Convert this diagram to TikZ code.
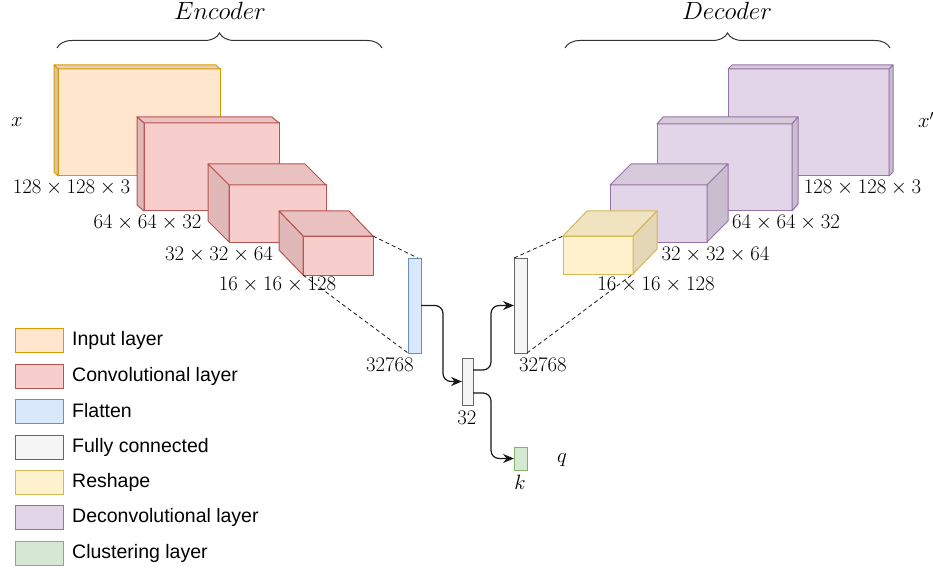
\documentclass[tikz,border=0pt]{standalone}
\usepackage[no-math]{fontspec}
\newfontfamily\legendfont{Liberation Sans}
\usetikzlibrary{calc,arrows.meta,decorations.pathreplacing}
\definecolor{inpfront}{HTML}{FFE6CC}\definecolor{inptop}{HTML}{E8D0B8}\definecolor{inpside}{HTML}{DCC4AB}\definecolor{inpline}{HTML}{D79B00}
\definecolor{convfront}{HTML}{F8CECC}\definecolor{convtop}{HTML}{E9C1C0}\definecolor{convside}{HTML}{DFB8B7}\definecolor{convline}{HTML}{B85450}
\definecolor{decfront}{HTML}{E1D5E7}\definecolor{dectop}{HTML}{D6CADB}\definecolor{decside}{HTML}{C9BDCF}\definecolor{decline}{HTML}{9673A6}
\definecolor{resfront}{HTML}{FFF2CC}\definecolor{restop}{HTML}{F0E3BF}\definecolor{resside}{HTML}{E3D7B5}\definecolor{resline}{HTML}{D6B656}
\definecolor{flfront}{HTML}{DAE8FC}\definecolor{flline}{HTML}{6C8EBF}
\definecolor{fcfront}{HTML}{F5F5F5}\definecolor{fcline}{HTML}{666666}
\definecolor{clfront}{HTML}{D5E8D4}\definecolor{clline}{HTML}{82B366}
\newcommand{\lcube}[8]{%
  \node[box, draw=#8line, fill=#8front, minimum width=#4pt, minimum height=#5pt] (#1) at (#2,#3) {};
  \filldraw[face, draw=#8line, fill=#8top] (#1.north west) -- (#1.north east) -- ++(-#6,-#7) -- ($(#1.north west)+(-#6,-#7)$) -- cycle;
  \filldraw[face, draw=#8line, fill=#8side] (#1.north west) -- (#1.south west) -- ++(-#6,-#7) -- ($(#1.north west)+(-#6,-#7)$) -- cycle;
}
\newcommand{\rcube}[8]{%
  \node[box, draw=#8line, fill=#8front, minimum width=#4pt, minimum height=#5pt] (#1) at (#2,#3) {};
  \filldraw[face, draw=#8line, fill=#8top] (#1.north west) -- (#1.north east) -- ++(#6,-#7) -- ($(#1.north west)+(#6,-#7)$) -- cycle;
  \filldraw[face, draw=#8line, fill=#8side] (#1.north east) -- (#1.south east) -- ++(#6,-#7) -- ($(#1.north east)+(#6,-#7)$) -- cycle;
}
\begin{document}
\begin{tikzpicture}[x=1pt,y=-1pt,
  box/.style={draw, line width=1pt, inner sep=0pt, outer sep=0pt, anchor=north west},
  face/.style={line width=1pt, line join=round},
  lbl/.style={inner sep=0pt, font=\fontsize{19.5}{23}\selectfont},
  ttl/.style={inner sep=0pt, font=\fontsize{23}{27}\selectfont},
  leg/.style={inner sep=0pt, anchor=west, font=\legendfont\fontsize{19.5}{23}\selectfont},
  dashln/.style={draw=black!90, line width=0.8pt, dash pattern=on 4pt off 3pt},
  arr/.style={draw=black!90, line width=1.2pt, rounded corners=8pt, -{Stealth[length=11pt,width=9pt]}},
  brc/.style={draw=black!80, line width=1pt, decorate, decoration={brace, amplitude=15pt}}
]
\useasboundingbox (0,0) rectangle (933,569);
% braces and titles
\draw[brc] (57,48) -- (382,48);
\draw[brc] (565,48) -- (890,48);
\node[ttl] (enc) at (220,11) {$Encoder$};
\node[ttl] (dec) at (727,11) {$Decoder$};
% encoder
\lcube{inp}{58}{69}{162}{107}{4}{4}{inp}
\lcube{c1}{144}{123}{135}{88}{7}{6}{conv}
\lcube{c2}{229}{185}{97}{57}{21}{21}{conv}
\lcube{c3}{303}{236}{70}{39}{24}{25}{conv}
% decoder
\rcube{d3}{728}{69}{161}{107}{4}{4}{dec}
\rcube{d2}{657}{124}{135}{87}{6}{7}{dec}
\rcube{d1}{610}{185}{97}{57}{21}{21}{dec}
\rcube{rs}{563}{236}{70}{38}{24}{25}{res}
% middle bars
\node[box, draw=flline, fill=flfront, minimum width=13pt, minimum height=95pt] (fl) at (408,258) {};
\node[box, draw=fcline, fill=fcfront, minimum width=13pt, minimum height=95pt] (fc2) at (514,258) {};
\node[box, draw=fcline, fill=fcfront, minimum width=11pt, minimum height=47pt] (fc) at (462,358) {};
\node[box, draw=clline, fill=clfront, minimum width=13pt, minimum height=23pt] (cl) at (514,447) {};
% dashed projections
\draw[dashln] (c3.north east) -- ($(fl.north)!0.5!(fl.north east)$);
\draw[dashln] (c3.south west) -- (fl.south west);
\draw[dashln] (fc2.north west) -- (rs.north west);
\draw[dashln] (fc2.south east) -- (rs.south east);
% arrows
\draw[arr] (fl.east) -- ++(22,0) |- (fc.west);
\draw[arr] ([yshift=11.5pt]fc.east) -- ++(18,0) |- (fc2.west);
\draw[arr] ([yshift=-11.5pt]fc.east) -- ++(18,0) |- (cl.west);
% labels
\node[lbl] (xin) at (17,122) {$x$};
\node[lbl] (xout) at (926,120) {$x'$};
\node[lbl] (l1) at (71.5,188) {$128\times128\times3$};
\node[lbl] (l2) at (147.5,223) {$64\times64\times32$};
\node[lbl] (l3) at (219,255) {$32\times32\times64$};
\node[lbl] (l4) at (277.5,285) {$16\times16\times128$};
\node[lbl] (r1) at (862.5,188) {$128\times128\times3$};
\node[lbl] (r2) at (786,223) {$64\times64\times32$};
\node[lbl] (r3) at (715.5,255) {$32\times32\times64$};
\node[lbl] (r4) at (656,285) {$16\times16\times128$};
\node[lbl] (nfl) at (390,365) {$32768$};
\node[lbl] (nfc2) at (543,365) {$32768$};
\node[lbl] (nfc) at (467,418) {$32$};
\node[lbl] (nk) at (520,482) {$k$};
\node[lbl] (nq) at (562,460) {$q$};
% legend
\foreach \nm/\yy/\cc/\tx in {g1/340/inp/Input layer, g2/376/conv/Convolutional layer, g3/411/fl/Flatten, g4/447/fc/Fully connected, g5/482/res/Reshape, g6/517/dec/Deconvolutional layer, g7/553/cl/Clustering layer}{
  \node[box, anchor=west, draw=\cc line, fill=\cc front, minimum width=48pt, minimum height=24pt] (\nm) at (15,\yy) {};
  \node[leg] (\nm t) at (72,\yy) {\tx};
}
\end{tikzpicture}
\end{document}
